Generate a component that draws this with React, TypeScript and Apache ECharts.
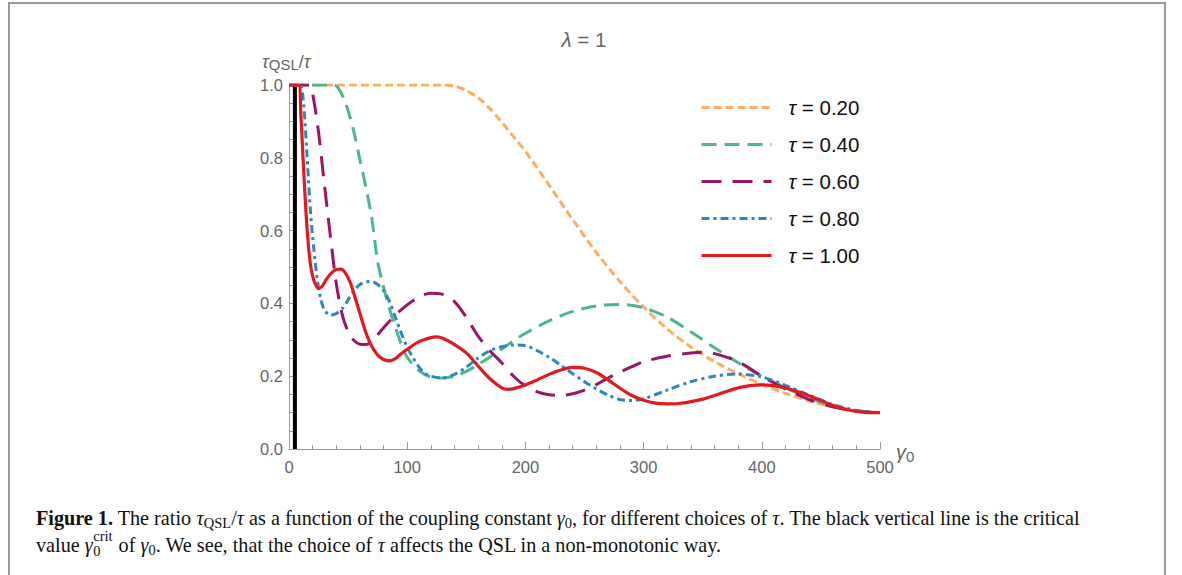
import React, { useEffect, useRef } from "react";
import * as echarts from "echarts";

// ---------- data ----------
const gammaTau020 = [0, 130, 140, 150, 160, 170, 180, 190, 200, 220, 240, 260, 280, 300, 320, 340, 360, 380, 400, 420, 440, 460, 480, 500];
const ratioTau020 = [1, 1, 0.997, 0.985, 0.965, 0.935, 0.898, 0.858, 0.818, 0.725, 0.63, 0.54, 0.46, 0.39, 0.33, 0.28, 0.24, 0.207, 0.178, 0.153, 0.132, 0.116, 0.105, 0.1];

const gammaTau040 = [0, 38, 42, 46, 50, 55, 60, 65, 70, 75, 80, 85, 90, 95, 100, 110, 120, 130, 140, 150, 160, 170, 180, 190, 200, 220, 240, 260, 280, 300, 320, 340, 360, 380, 400, 420, 440, 460, 480, 500];
const ratioTau040 = [1, 1, 0.99, 0.965, 0.93, 0.87, 0.795, 0.72, 0.635, 0.515, 0.445, 0.385, 0.335, 0.288, 0.252, 0.215, 0.198, 0.195, 0.2, 0.213, 0.232, 0.253, 0.275, 0.297, 0.318, 0.352, 0.378, 0.393, 0.397, 0.388, 0.362, 0.322, 0.278, 0.237, 0.2, 0.168, 0.14, 0.118, 0.105, 0.1];

const gammaTau060 = [0, 17, 20, 25, 30, 35, 40, 45, 50, 55, 60, 65, 70, 80, 90, 100, 110, 120, 130, 140, 150, 160, 170, 180, 190, 200, 210, 220, 230, 240, 250, 260, 270, 280, 290, 300, 320, 340, 350, 360, 380, 400, 420, 440, 460, 480, 500];
const ratioTau060 = [1, 1, 0.975, 0.87, 0.725, 0.585, 0.455, 0.37, 0.322, 0.298, 0.288, 0.287, 0.296, 0.333, 0.368, 0.396, 0.418, 0.428, 0.425, 0.405, 0.362, 0.31, 0.27, 0.237, 0.2, 0.173, 0.157, 0.149, 0.147, 0.152, 0.162, 0.177, 0.195, 0.211, 0.226, 0.24, 0.255, 0.264, 0.266, 0.262, 0.24, 0.2, 0.165, 0.136, 0.116, 0.104, 0.1];

const gammaTau080 = [0, 9, 12, 15, 18, 21, 24, 27, 30, 35, 40, 45, 50, 55, 60, 65, 70, 75, 80, 85, 90, 95, 100, 105, 110, 115, 120, 130, 140, 150, 160, 170, 180, 190, 200, 210, 220, 230, 240, 250, 260, 270, 280, 290, 300, 320, 340, 360, 380, 400, 420, 440, 460, 480, 500];
const ratioTau080 = [1, 1, 0.96, 0.82, 0.66, 0.55, 0.465, 0.41, 0.382, 0.368, 0.372, 0.385, 0.41, 0.435, 0.452, 0.459, 0.46, 0.452, 0.435, 0.405, 0.362, 0.318, 0.28, 0.25, 0.225, 0.208, 0.2, 0.195, 0.205, 0.225, 0.25, 0.27, 0.281, 0.286, 0.284, 0.27, 0.252, 0.23, 0.207, 0.185, 0.165, 0.148, 0.136, 0.133, 0.138, 0.162, 0.185, 0.2, 0.206, 0.198, 0.175, 0.148, 0.122, 0.106, 0.1];

const gammaTau100 = [0, 8, 10, 12, 14, 16, 18, 20, 22, 25, 28, 32, 36, 40, 44, 48, 52, 56, 60, 65, 70, 75, 80, 85, 90, 95, 100, 110, 120, 125, 130, 140, 150, 160, 170, 180, 185, 190, 200, 210, 220, 230, 240, 250, 260, 270, 280, 290, 300, 310, 320, 330, 340, 350, 360, 370, 380, 390, 400, 410, 420, 430, 440, 450, 460, 470, 480, 490, 500];
const ratioTau100 = [1, 1, 0.92, 0.79, 0.67, 0.575, 0.51, 0.475, 0.455, 0.441, 0.447, 0.468, 0.484, 0.493, 0.494, 0.482, 0.456, 0.415, 0.372, 0.32, 0.282, 0.258, 0.246, 0.242, 0.248, 0.262, 0.274, 0.295, 0.306, 0.308, 0.304, 0.287, 0.264, 0.228, 0.193, 0.168, 0.164, 0.166, 0.176, 0.19, 0.205, 0.217, 0.224, 0.222, 0.21, 0.19, 0.167, 0.147, 0.134, 0.126, 0.124, 0.125, 0.13, 0.137, 0.147, 0.158, 0.168, 0.174, 0.176, 0.174, 0.168, 0.158, 0.146, 0.133, 0.12, 0.11, 0.103, 0.1, 0.1];

const tauLabels = ["0.20", "0.40", "0.60", "0.80", "1.00"];
const criticalGamma = 5;
const criticalLine = [0, 1];

// ---------- styles ----------
const SANS = '"Liberation Sans", Arial, sans-serif';
const SERIF = '"Liberation Serif", "Times New Roman", serif';
const GRAY = "#666666";

const lineLooks = [
  { color: "#FFAD5E", dash: [8, 4] as any, width: 3 },
  { color: "#4BB88A", dash: [15, 8] as any, width: 3 },
  { color: "#9A1566", dash: [20, 11] as any, width: 3 },
  { color: "#2B86C5", dash: [8, 4, 3, 4] as any, width: 3 },
  { color: "#E01A1F", dash: "solid" as any, width: 3.2 },
];

const seriesXY = [
  [gammaTau020, ratioTau020],
  [gammaTau040, ratioTau040],
  [gammaTau060, ratioTau060],
  [gammaTau080, ratioTau080],
  [gammaTau100, ratioTau100],
];

function pairs(xs: number[], ys: number[]) {
  return xs.map((x, i) => [x, ys[i]]);
}

function measure(text: string, font: string): number {
  const ctx = document.createElement("canvas").getContext("2d");
  if (!ctx) return text.length * 8;
  ctx.font = font;
  return ctx.measureText(text).width;
}

function rs(size: number, family: string, color: string, extra: any = {}) {
  return { fontSize: size, fontFamily: family, fill: color, color, fontStyle: "normal", fontWeight: "normal", ...extra };
}

export default function App() {
  const ref = useRef<HTMLDivElement>(null);

  useEffect(() => {
    if (!ref.current) return;
    const chart = echarts.init(ref.current, null, { renderer: "svg" });

    const capSize = 20.2;
    const subSize = 14.5;
    const capX = 36;
    const capBase1 = 518;
    const capBase2 = 545;
    const capRich = {
      n: rs(capSize, SERIF, "#111"),
      b: rs(capSize, SERIF, "#111", { fontWeight: "bold" }),
      i: rs(capSize, SERIF, "#111", { fontStyle: "italic" }),
      s: rs(subSize, SERIF, "#111", { padding: [9, 0, 0, 0] }),
    };

    const line1 =
      "{b|Figure 1.}{n| The ratio }{i|τ}{s|QSL}{n|/}{i|τ}{n| as a function of the coupling constant }{i|γ}{s|0}{n|, for different choices of }{i|τ}{n|. The black vertical line is the critical}";

    const wValue = measure("value ", `${capSize}px ${SERIF}`) + measure("γ", `italic ${capSize}px ${SERIF}`);
    const wCrit = measure("crit", `${subSize}px ${SERIF}`);
    const line2b =
      "{n| of }{i|γ}{s|0}{n|. We see, that the choice of }{i|τ}{n| affects the QSL in a non-monotonic way.}";

    const series: any[] = [
      {
        type: "line",
        name: "critical",
        data: criticalLine.map((v) => [criticalGamma, v]),
        symbol: "none",
        lineStyle: { color: "#000", width: 4 },
        silent: true,
        z: 1,
      },
    ];
    seriesXY.forEach(([xs, ys], k) => {
      const look = lineLooks[k];
      series.push({
        type: "line",
        name: "τ = " + tauLabels[k],
        data: pairs(xs, ys),
        symbol: "none",
        showSymbol: false,
        smooth: 0.3,
        lineStyle: { color: look.color, width: look.width, type: look.dash, cap: "butt" },
        itemStyle: { color: look.color },
        silent: true,
        z: 2 + k,
      });
    });

    chart.setOption({
      animation: false,
      backgroundColor: "#fff",
      grid: { left: 289, top: 85, width: 591, height: 364 },
      xAxis: {
        type: "value",
        min: 0,
        max: 500,
        interval: 100,
        axisLine: { show: true, onZero: false, lineStyle: { color: "#999", width: 1 } },
        axisTick: { show: true, inside: true, length: 7, lineStyle: { color: "#999" } },
        minorTick: { show: true, splitNumber: 5, length: 4, lineStyle: { color: "#999" } },
        splitLine: { show: false },
        axisLabel: { color: GRAY, fontSize: 16.5, fontFamily: SANS, margin: 9 },
      },
      yAxis: {
        type: "value",
        min: 0,
        max: 1,
        interval: 0.2,
        axisLine: { show: true, onZero: false, lineStyle: { color: "#999", width: 1 } },
        axisTick: { show: true, inside: true, length: 7, lineStyle: { color: "#999" } },
        minorTick: { show: true, splitNumber: 4, length: 4, lineStyle: { color: "#999" } },
        splitLine: { show: false },
        axisLabel: {
          color: GRAY,
          fontSize: 16.5,
          fontFamily: SANS,
          margin: 6,
          formatter: (v: number) => v.toFixed(1),
        },
      },
      legend: {
        show: true,
        orient: "vertical",
        left: 700,
        top: 96,
        padding: 0,
        itemWidth: 70,
        itemHeight: 14,
        itemGap: 14,
        data: tauLabels.map((t) => "τ = " + t),
        formatter: (name: string) => "{i|τ}{n|" + name.slice(1) + "}",
        itemStyle: { color: "rgba(0,0,0,0)", borderColor: "rgba(0,0,0,0)", borderWidth: 0, opacity: 0 },
        lineStyle: { width: 3 },
        textStyle: {
          fontSize: 20.5,
          fontFamily: SANS,
          color: "#111",
          lineHeight: 23,
          padding: [0, 0, 0, 12],
          rich: {
            i: { fontSize: 20.5, fontFamily: SANS, fontStyle: "italic", color: "#111" },
            n: { fontSize: 20.5, fontFamily: SANS, color: "#111" },
          },
        },
        selectedMode: false,
      },
      series,
      graphic: [
        {
          type: "rect",
          shape: { x: 9, y: 3, width: 1156, height: 620 },
          style: { fill: "none", stroke: "#999", lineWidth: 2 },
          silent: true,
        },
        {
          type: "text",
          x: 584,
          y: 39,
          style: {
            text: "{i|λ}{n| = 1}",
            align: "center",
            verticalAlign: "middle",
            rich: {
              i: rs(20.5, SANS, GRAY, { fontStyle: "italic" }),
              n: rs(20.5, SANS, GRAY),
            },
          },
          silent: true,
        },
        {
          type: "text",
          x: 262,
          y: 62,
          style: {
            text: "{i|τ}{s|QSL}{n|/}{i|τ}",
            align: "left",
            verticalAlign: "middle",
            rich: {
              i: rs(18, SANS, GRAY, { fontStyle: "italic" }),
              n: rs(18, SANS, GRAY),
              s: rs(15, SANS, GRAY, { padding: [5, 0, 0, 0] }),
            },
          },
          silent: true,
        },
        {
          type: "text",
          x: 896,
          y: 452,
          style: {
            text: "{i|γ}{s|0}",
            align: "left",
            verticalAlign: "middle",
            rich: {
              i: rs(20, SANS, GRAY, { fontStyle: "italic" }),
              s: rs(15, SANS, GRAY, { padding: [9, 0, 0, 0] }),
            },
          },
          silent: true,
        },
        {
          type: "text",
          x: capX,
          y: capBase1,
          style: { text: line1, align: "left", verticalAlign: "middle", rich: capRich },
          silent: true,
        },
        {
          type: "text",
          x: capX,
          y: capBase2,
          style: { text: "{n|value }{i|γ}", align: "left", verticalAlign: "middle", rich: capRich },
          silent: true,
        },
        {
          type: "text",
          x: capX + wValue + 0.5,
          y: capBase2 - 9,
          style: { text: "crit", align: "left", verticalAlign: "middle", ...rs(subSize, SERIF, "#111") },
          silent: true,
        },
        {
          type: "text",
          x: capX + wValue + 0.5,
          y: capBase2 + 6,
          style: { text: "0", align: "left", verticalAlign: "middle", ...rs(subSize, SERIF, "#111") },
          silent: true,
        },
        {
          type: "text",
          x: capX + wValue + wCrit + 1.5,
          y: capBase2,
          style: { text: line2b, align: "left", verticalAlign: "middle", rich: capRich },
          silent: true,
        },
      ],
    });

    return () => chart.dispose();
  }, []);

  return (
    <div
      ref={ref}
      style={{ position: "fixed", left: 0, top: 0, width: 1182, height: 575, background: "#fff" }}
    />
  );
}
